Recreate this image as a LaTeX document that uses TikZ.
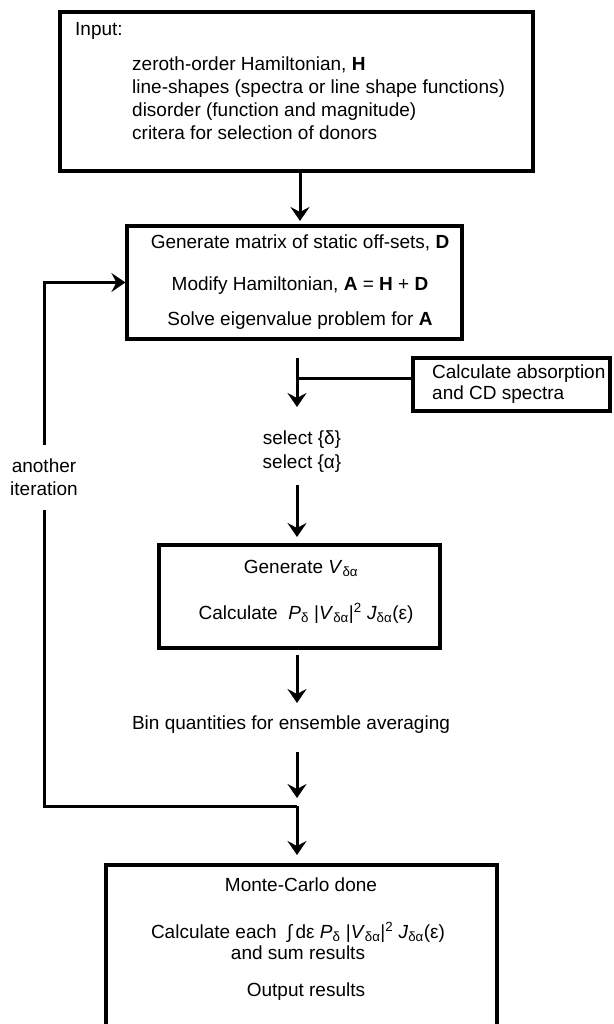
\documentclass[tikz,border=0pt]{standalone}
\usepackage{fontspec}
\setmainfont{Liberation Sans}
\usetikzlibrary{arrows.meta}
\newcommand{\sbs}[1]{\textsubscript{#1}}
\newcommand{\sps}[1]{\textsuperscript{#1}}
\begin{document}
\begin{tikzpicture}[x=1pt,y=-1pt,
  box/.style={draw,line width=3.2pt,inner sep=0pt},
  lnk/.style={line width=3pt},
  conn/.style={lnk,-{Stealth[length=14pt,width=19pt,inset=5pt]}},
  txt/.style={inner sep=0pt,font=\fontsize{19}{23}\selectfont}]
\useasboundingbox (0,0) rectangle (613,1024);
\clip (0,0) rectangle (613,1024);
% boxes
\node[box,minimum width=473pt,minimum height=159pt] (b1) at (296.5,91.5) {};
\node[box,minimum width=335pt,minimum height=113pt] (b2) at (294.5,282.5) {};
\node[box,minimum width=197pt,minimum height=53pt] (b3) at (511.5,384.5) {};
\node[box,minimum width=281pt,minimum height=103pt] (b4) at (299.5,596.5) {};
\node[box,minimum width=391pt,minimum height=235pt] (b5) at (301.5,982.5) {};
% box 1 text
\node[txt,anchor=base west] (t1) at (75,36) {Input:};
\node[txt,anchor=base west] (t2) at (132,71) {zeroth-order Hamiltonian, \textbf{H}};
\node[txt,anchor=base west] (t3) at (132,94) {line-shapes (spectra or line shape functions)};
\node[txt,anchor=base west] (t4) at (132,117) {disorder (function and magnitude)};
\node[txt,anchor=base west] (t5) at (132,140) {critera for selection of donors};
% box 2 text
\node[txt,anchor=base] (g1) at (300,248) {Generate matrix of static off-sets, \textbf{D}};
\node[txt,anchor=base] (g2) at (300,290) {Modify Hamiltonian, \textbf{A} = \textbf{H} + \textbf{D}};
\node[txt,anchor=base] (g3) at (300,325) {Solve eigenvalue problem for \textbf{A}};
% box 3 text
\node[txt,anchor=base west] (c1) at (432,378) {Calculate absorption};
\node[txt,anchor=base west] (c2) at (432,399) {and CD spectra};
% select
\node[txt,anchor=base] (s1) at (302,444) {select \{δ\}};
\node[txt,anchor=base] (s2) at (302,468) {select \{α\}};
% box 4 text
\node[txt,anchor=base] (v1) at (301,573) {Generate \textit{V}\sbs{δα}};
\node[txt,anchor=base] (v2) at (306,619) {Calculate\ \ \textit{P}\sbs{δ} |\textit{V}\sbs{δα}|\sps{2} \textit{J}\sbs{δα}(ε)};
% bin
\node[txt,anchor=base] (bq) at (291,729) {Bin quantities for ensemble averaging};
% box 5 text
\node[txt,anchor=base] (m1) at (301,891) {Monte-Carlo done};
\node[txt,anchor=base] (m2) at (298,938) {Calculate each\ \ ∫\,dε \textit{P}\sbs{δ} |\textit{V}\sbs{δα}|\sps{2} \textit{J}\sbs{δα}(ε)};
\node[txt,anchor=base] (m3) at (298,959) {and sum results};
\node[txt,anchor=base] (m4) at (306,996) {Output results};
% another iteration
\node[txt,align=center,inner xsep=0pt,inner ysep=14pt] (it) at (44,477.5) {another\\iteration};
% connector coordinates
\coordinate (a1e) at (300,221);
\coordinate (a2s) at (297,358);
\coordinate (a2e) at (297,407);
\coordinate (br) at (297,378);
\coordinate (a3s) at (297,485);
\coordinate (a3e) at (297,537);
\coordinate (a4s) at (297,655);
\coordinate (a4e) at (297,703);
\coordinate (a5s) at (297,752);
\coordinate (a5e) at (297,798);
\coordinate (jn) at (297,806);
\coordinate (a6e) at (297,855);
% connectors
\draw[conn] (b1.south -| a1e) -- (a1e);
\draw[conn] (a2s) -- (a2e);
\draw[lnk] (b3.west |- br) -- (br);
\draw[conn] (a3s) -- (a3e);
\draw[conn] (a4s) -- (a4e);
\draw[conn] (a5s) -- (a5e);
\draw[conn] (jn) -- (a6e);
\draw[conn] (it.north) |- (b2.west);
\draw[lnk] (it.south) |- (jn);
\end{tikzpicture}
\end{document}
